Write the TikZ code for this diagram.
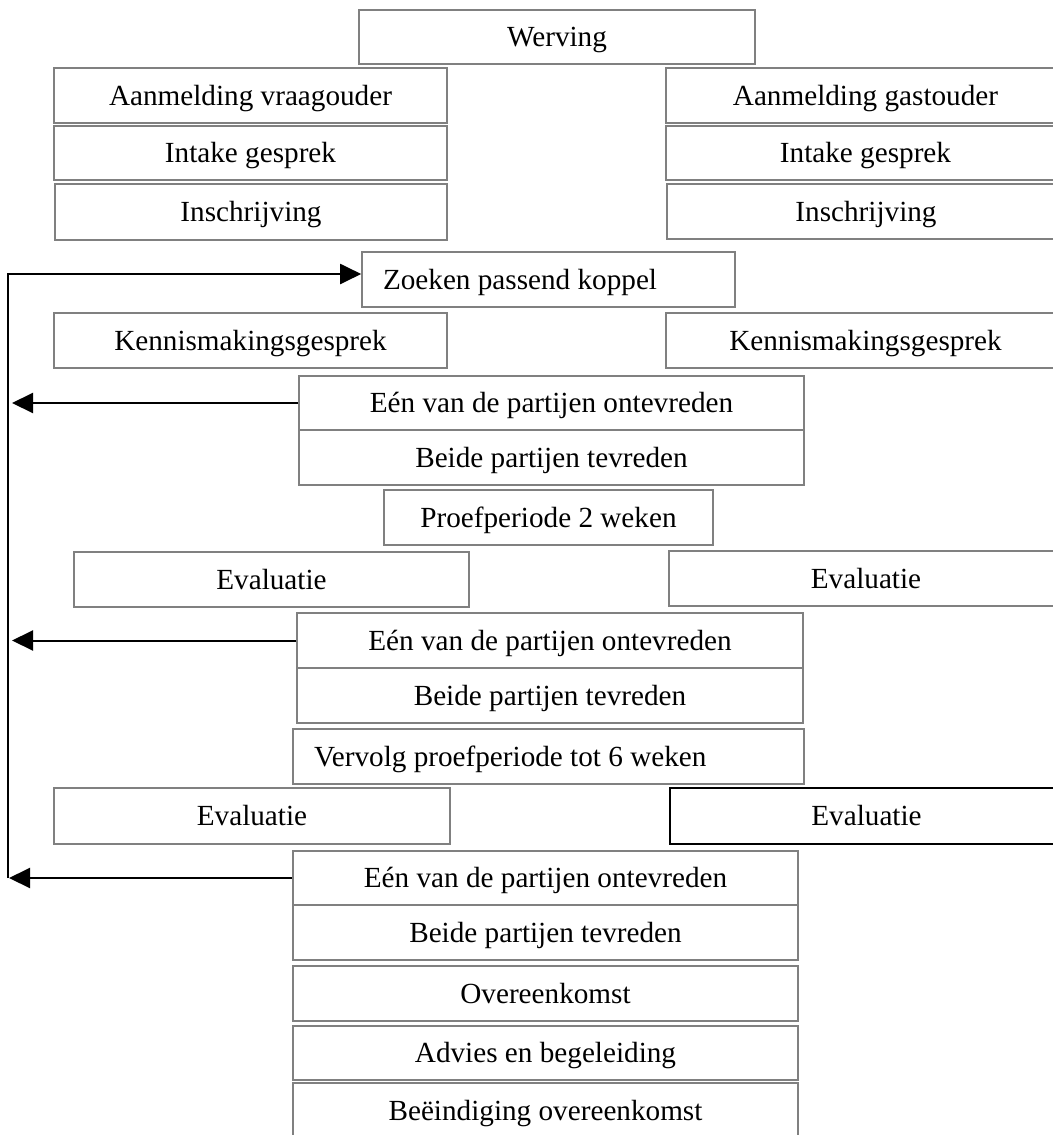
\documentclass[tikz,border=0pt]{standalone}
\usepackage{fontspec}
\setmainfont{Liberation Serif}
\usetikzlibrary{arrows.meta}
\definecolor{boxgray}{RGB}{128,128,128}
\tikzset{
  flowbox/.style={draw=boxgray, line width=0.8pt, fill=white, inner sep=0pt,
    text height=9.6pt, text depth=0pt,
    font=\fontsize{14.6}{17}\selectfont},
  leftbox/.style={inner xsep=10.5pt},
  darkbox/.style={draw=black, line width=0.9pt},
  conn/.style={line width=1pt, black},
  arrowhead/.style={-{Triangle[length=10.5pt,width=10pt]}}
}
\newcommand{\flowbox}[7][]{%
  \node[flowbox,minimum width={(#5-#3)*0.5pt},minimum height={(#6-#4)*0.5pt},#1]
    (#2) at ({(#3+#5)/2},{(#4+#6)/2}) {#7};}
\begin{document}
\begin{tikzpicture}[x=0.5pt,y=-0.5pt]
\useasboundingbox (0,0) rectangle (1053,1135);
\clip (0,0) rectangle (1053,1135);
% top
\flowbox{werv}{359}{10}{755}{64}{Werving}
\flowbox{av}{54}{68}{447}{123}{Aanmelding vraagouder}
\flowbox{iv}{54}{126}{447}{180}{Intake gesprek}
\flowbox{sv}{55}{184}{447}{240}{Inschrijving}
\flowbox{ag}{666}{68}{1065}{123}{Aanmelding gastouder}
\flowbox{ig}{666}{126}{1065}{180}{Intake gesprek}
\flowbox{sg}{667}{184}{1065}{239}{Inschrijving}
\flowbox[leftbox]{zoek}{362}{252}{735}{307}{\makebox[165.5pt][l]{Zoeken passend koppel}}
\flowbox{kv}{54}{313}{447}{368}{Kennismakingsgesprek}
\flowbox{kg}{666}{313}{1065}{368}{Kennismakingsgesprek}
\flowbox{eenA}{299}{376}{804}{430}{Eén van de partijen ontevreden}
\flowbox{beideA}{299}{430}{804}{485}{Beide partijen tevreden}
\flowbox{proef}{384}{490}{713}{545}{Proefperiode 2 weken}
\flowbox{evA}{74}{552}{469}{607}{Evaluatie}
\flowbox{egA}{669}{551}{1063}{606}{Evaluatie}
\flowbox{eenB}{297}{613}{803}{668}{Eén van de partijen ontevreden}
\flowbox{beideB}{297}{668}{803}{723}{Beide partijen tevreden}
\flowbox[leftbox]{verv}{293}{729}{804}{784}{\makebox[234.5pt][l]{Vervolg proefperiode tot 6 weken}}
\flowbox{evB}{54}{788}{450}{844}{Evaluatie}
\flowbox[darkbox]{egB}{670}{788}{1063}{844}{Evaluatie}
\flowbox{eenC}{293}{851}{798}{905}{Eén van de partijen ontevreden}
\flowbox{beideC}{293}{905}{798}{960}{Beide partijen tevreden}
\flowbox{over}{293}{966}{798}{1021}{Overeenkomst}
\flowbox{adv}{293}{1026}{798}{1080}{Advies en begeleiding}
\flowbox{bein}{293}{1083}{798}{1139}{Beëindiging overeenkomst}
% loop connectors
\coordinate (lt) at (8,274);
\coordinate (lb) at (8,878);
\coordinate (tipA) at (12,0);
\coordinate (tipC) at (9,0);
\draw[conn,arrowhead] (lb) -- (lt) -- (lt -| zoek.west);
\draw[conn,arrowhead] (eenA.west) -- (eenA.west -| tipA);
\draw[conn,arrowhead] (eenB.west) -- (eenB.west -| tipA);
\draw[conn,arrowhead] (eenC.west) -- (eenC.west -| tipC);
\end{tikzpicture}
\end{document}
